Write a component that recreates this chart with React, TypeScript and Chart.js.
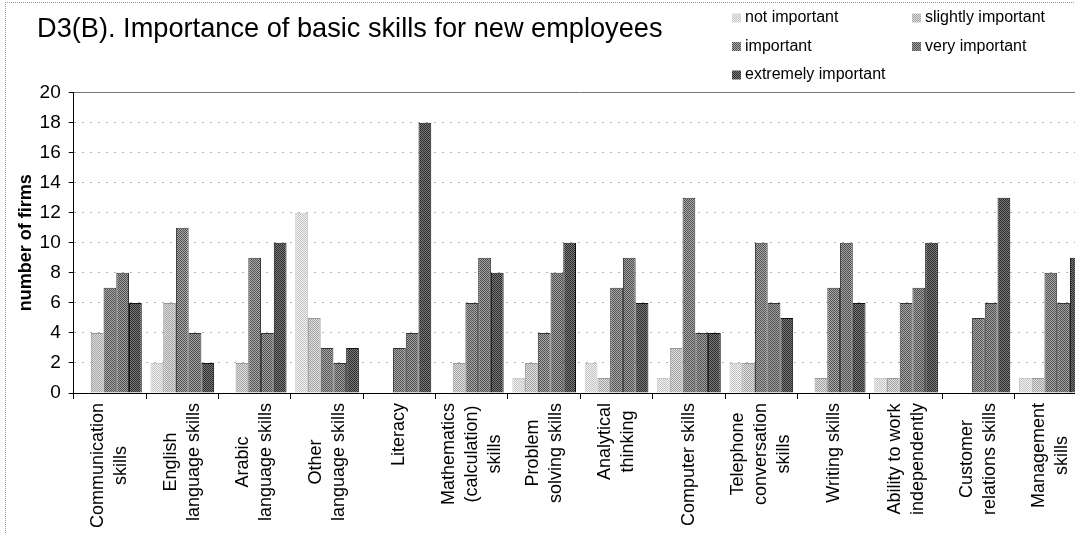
import React, { useEffect, useRef } from 'react';
import { Chart, registerables } from 'chart.js';

Chart.register(...registerables);

const FONT = '"Liberation Sans", Arial, Helvetica, sans-serif';

const titleText = 'D3(B). Importance of basic skills for new employees';
const yAxisTitle = 'number of firms';

const categories: string[][] = [
  ['Communication', 'skills'],
  ['English', 'language skills'],
  ['Arabic', 'language skills'],
  ['Other', 'language skills'],
  ['Literacy'],
  ['Mathematics', '(calculation)', 'skills'],
  ['Problem', 'solving skills'],
  ['Analytical', 'thinking'],
  ['Computer skills'],
  ['Telephone', 'conversation', 'skills'],
  ['Writing skills'],
  ['Ability to work', 'independently'],
  ['Customer', 'relations skills'],
  ['Management', 'skills'],
];

const seriesNames = [
  'not important',
  'slightly important',
  'important',
  'very important',
  'extremely important',
];

const notImportant = [0, 2, 0, 12, 0, 0, 1, 2, 1, 2, 0, 1, 0, 1];
const slightlyImportant = [4, 6, 2, 5, 0, 2, 2, 1, 3, 2, 1, 1, 0, 1];
const important = [7, 11, 9, 3, 3, 6, 4, 7, 13, 10, 7, 6, 5, 8];
const veryImportant = [8, 4, 4, 2, 4, 9, 8, 9, 4, 6, 10, 7, 6, 6];
const extremelyImportant = [6, 2, 10, 3, 18, 8, 10, 6, 4, 5, 6, 10, 13, 9];

const yMin = 0;
const yMax = 20;
const yStep = 2;

// two-tone dither tiles for each series [light, dark], plus outline colour
const patternTones: [string, string][] = [
  ['#f2f2f2', '#c2c2c2'],
  ['#e0e0e0', '#a2a2a2'],
  ['#aaaaaa', '#525252'],
  ['#a2a2a2', '#4e4e4e'],
  ['#7a7a7a', '#2c2c2c'],
];
const outlineColors = ['#c8c8c8', '#9a9a9a', '#333333', '#333333', '#111111'];

function makePattern(a: string, b: string): CanvasPattern | string {
  const c = document.createElement('canvas');
  c.width = 2;
  c.height = 2;
  const g = c.getContext('2d');
  if (!g) return b;
  g.fillStyle = a;
  g.fillRect(0, 0, 2, 2);
  g.fillStyle = b;
  g.fillRect(0, 0, 1, 1);
  g.fillRect(1, 1, 1, 1);
  return g.createPattern(c, 'repeat') || b;
}

const xLabelPlugin = {
  id: 'centeredXLabels',
  afterDraw(chart: any) {
    const ctx = chart.ctx as CanvasRenderingContext2D;
    const xs = chart.scales.x;
    const lh = 23;
    const top = xs.top + 10;
    ctx.save();
    ctx.font = `18px ${FONT}`;
    ctx.fillStyle = '#000';
    ctx.textAlign = 'center';
    ctx.textBaseline = 'middle';
    (chart.data.labels as string[][]).forEach((lines, i) => {
      const cx = xs.getPixelForTick(i);
      const w = Math.max(...lines.map((l) => ctx.measureText(l).width));
      lines.forEach((line, j) => {
        const x = cx + (j - (lines.length - 1) / 2) * lh;
        ctx.save();
        ctx.translate(x, top + w / 2);
        ctx.rotate(-Math.PI / 2);
        ctx.fillText(line, 0, 0);
        ctx.restore();
      });
    });
    ctx.restore();
  },
};

const gridLegendPlugin = {
  id: 'gridLegend',
  afterDraw(chart: any) {
    const ctx = chart.ctx as CanvasRenderingContext2D;
    ctx.save();
    ctx.font = `16px ${FONT}`;
    ctx.textBaseline = 'middle';
    ctx.textAlign = 'left';
    chart.data.datasets.forEach((ds: any, i: number) => {
      const col = i % 2;
      const row = Math.floor(i / 2);
      const x = 732 + col * 180;
      const y = 18 + row * 28.5;
      ctx.fillStyle = ds.backgroundColor;
      ctx.fillRect(x, y - 4.5, 9, 9);
      ctx.fillStyle = '#000';
      ctx.fillText(ds.label, x + 13, y);
    });
    ctx.restore();
  },
};

export default function App() {
  const canvasRef = useRef<HTMLCanvasElement | null>(null);

  useEffect(() => {
    if (!canvasRef.current) return;
    const seriesData = [notImportant, slightlyImportant, important, veryImportant, extremelyImportant];
    const patterns = patternTones.map(([a, b]) => makePattern(a, b));

    const chart = new Chart(canvasRef.current, {
      type: 'bar',
      data: {
        labels: categories as any,
        datasets: seriesNames.map((name, i) => ({
          label: name,
          data: seriesData[i],
          backgroundColor: patterns[i] as any,
          borderColor: outlineColors[i],
          borderWidth: 1,
          categoryPercentage: 0.88,
          barPercentage: 1.0,
        })),
      },
      options: {
        animation: false,
        responsive: true,
        maintainAspectRatio: false,
        layout: { padding: { left: 37, right: 0, top: 0, bottom: 134 } },
        plugins: {
          legend: { display: false },
          tooltip: { enabled: false },
          title: {
            display: true,
            text: titleText,
            align: 'start',
            color: '#000',
            font: { family: FONT, size: 27.2, weight: 'normal' },
            padding: { top: 13.5, bottom: 46.5 },
          },
        },
        scales: {
          x: {
            grid: {
              display: true,
              drawOnChartArea: false,
              drawTicks: true,
              tickLength: 6,
              tickColor: '#000',
              offset: true,
            },
            border: { display: true, color: '#000', width: 1 },
            ticks: { display: false, autoSkip: false },
          },
          y: {
            min: yMin,
            max: yMax,
            ticks: {
              stepSize: yStep,
              color: '#000',
              font: { family: FONT, size: 19 },
              padding: 8,
            },
            grid: {
              color: (c: any) => (c.tick && c.tick.value === yMax ? '#777' : 'rgba(0,0,0,0.3)'),
              tickColor: '#000',
              tickLength: 5,
              lineWidth: 1,
            },
            border: {
              display: true,
              color: '#000',
              width: 1,
              dash: (c: any) => (c.type === 'tick' && c.tick && c.tick.value !== yMax ? [2, 6] : []),
            },
            title: {
              display: true,
              text: yAxisTitle,
              color: '#000',
              font: { family: FONT, size: 18, weight: 'bold' },
              padding: { top: -22, bottom: -5 },
            },
          },
        },
      },
      plugins: [xLabelPlugin, gridLegendPlugin],
    });
    return () => chart.destroy();
  }, []);

  return (
    <div
      style={{
        position: 'fixed',
        left: 0,
        top: 0,
        width: 1075,
        height: 533,
        overflow: 'hidden',
        background: '#fff',
      }}
    >
      <div style={{ position: 'absolute', left: 0, top: 0, width: 1087, height: 533 }}>
        <canvas ref={canvasRef} />
      </div>
      <div
        style={{
          position: 'absolute',
          left: 5,
          top: 2,
          width: 1200,
          height: 1000,
          borderTop: '1px dotted #999',
          borderLeft: '1px dotted #999',
          pointerEvents: 'none',
        }}
      />
    </div>
  );
}
